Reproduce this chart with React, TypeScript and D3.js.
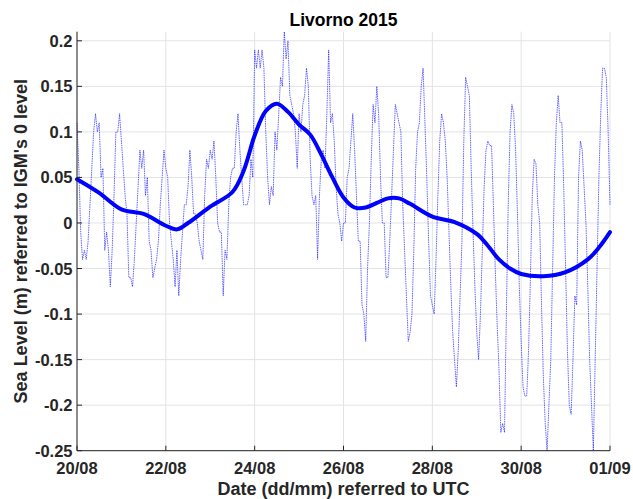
import React from "react";
import * as d3 from "d3";

// Hourly sea level at Livorno, 20/08/2015 00:00 UTC to 01/09/2015 00:00 UTC (m, IGM datum)
const hourlyLevel: number[] = [
  0.11, 0.06, -0.01, -0.04, -0.03, -0.04, -0.02, 0.02, 0.06, 0.1, 0.12, 0.1,
  0.11, 0.05, 0.06, -0.03, -0.01, -0.03, -0.07, -0.03, 0.03, 0.1, 0.1, 0.12,
  0.09, 0.06, 0.03, 0.01, -0.06, -0.06, -0.07, -0.04, 0.0, 0.04, 0.08, 0.06,
  0.08, 0.03, 0.05, -0.02, -0.03, -0.06, -0.05, -0.04, -0.02, 0.02, 0.05, 0.08,
  0.06, 0.05, 0.0, -0.02, -0.04, -0.07, -0.03, -0.08, -0.04, -0.01, 0.02, 0.02,
  0.04, 0.08, 0.05, 0.01, 0.01, 0.0, -0.02, -0.03, -0.04, 0.03, 0.07, 0.06,
  0.08, 0.07, 0.09, 0.05, 0.0, -0.01, -0.01, -0.08, -0.03, -0.04, 0.02, 0.05,
  0.06, 0.06, 0.1, 0.12, 0.08, 0.05, 0.02, 0.02, 0.02, 0.03, 0.07, 0.05,
  0.19, 0.17, 0.19, 0.17, 0.19, 0.17, 0.1, 0.05, 0.02, 0.04, 0.03, 0.1,
  0.08, 0.12, 0.16, 0.15, 0.21, 0.18, 0.2, 0.14, 0.13, 0.12, 0.1, 0.06,
  0.12, 0.1, 0.13, 0.14, 0.17, 0.15, 0.07, 0.03, 0.02, 0.03, -0.04, 0.03,
  0.07, 0.08, 0.06, 0.12, 0.19, 0.11, 0.12, 0.09, 0.04, 0.01, 0.0, -0.02,
  0.0, 0.0, 0.05, 0.06, 0.09, 0.12, 0.08, 0.03, -0.02, -0.02, -0.09, -0.1,
  -0.13, -0.05, 0.0, 0.07, 0.13, 0.11, 0.15, 0.12, 0.05, 0.0, 0.0, -0.06,
  -0.06, -0.02, 0.03, 0.08, 0.13, 0.12, 0.11, 0.1, 0.02, -0.03, -0.08, -0.13,
  -0.12, -0.1, -0.03, 0.06, 0.1, 0.11, 0.15, 0.17, 0.11, 0.05, -0.02, -0.08,
  -0.09, -0.1, -0.04, 0.03, 0.09, 0.12, 0.11, 0.09, 0.05, -0.01, -0.07, -0.12,
  -0.15, -0.18, -0.14, -0.08, -0.02, 0.09, 0.16, 0.15, 0.14, 0.06, -0.01, -0.07,
  -0.12, -0.15, -0.1, -0.03, 0.04, 0.08, 0.09, 0.085, 0.085, 0.02, -0.05, -0.11,
  -0.16, -0.23, -0.22, -0.23, -0.1, 0.02, 0.1, 0.13, 0.12, 0.08, 0.01, -0.07,
  -0.13, -0.18, -0.19, -0.19, -0.14, -0.06, 0.03, 0.07, 0.065, 0.02, 0.0, -0.09,
  -0.17, -0.22, -0.25, -0.2, -0.15, -0.05, 0.05, 0.11, 0.14, 0.11, 0.11, 0.04,
  -0.05, -0.14, -0.2, -0.21, -0.15, -0.08, -0.09, 0.05, 0.09, 0.08, 0.04, 0.0,
  -0.07, -0.15, -0.2, -0.25, -0.15, -0.05, 0.05, 0.12, 0.17, 0.17, 0.16, 0.1,
  0.02,
];

// Low-pass filtered level (hours since start, metres)
const trendHours: number[] = [
  0, 12, 24, 36, 48, 54, 60, 72, 84, 90, 96, 102, 108, 114, 120, 126, 132, 138,
  144, 150, 156, 162, 168, 174, 180, 192, 204, 216, 222, 228, 234, 240, 252,
  264, 276, 282, 288,
];
const trendLevel: number[] = [
  0.048, 0.033, 0.015, 0.01, -0.003, -0.007, 0.0, 0.018, 0.034, 0.057, 0.096,
  0.123, 0.131, 0.122, 0.108, 0.097, 0.075, 0.05, 0.028, 0.017, 0.017, 0.022,
  0.027, 0.027, 0.021, 0.007, 0.001, -0.012, -0.025, -0.04, -0.05, -0.056,
  -0.0585, -0.054, -0.04, -0.027, -0.01,
];

const dateTickLabels: string[] = ["20/08", "22/08", "24/08", "26/08", "28/08", "30/08", "01/09"];
const dateTickHours: number[] = [0, 48, 96, 144, 192, 240, 288];
const levelTicks: number[] = [-0.25, -0.2, -0.15, -0.1, -0.05, 0, 0.05, 0.1, 0.15, 0.2];

const W = 633;
const H = 499;
const margin = { left: 77, right: 23, top: 31.7, bottom: 48.3 };
const AXIS = "#262626";
const GRID = "#e3e3e3";
const FONT = "'Liberation Sans', Arial, Helvetica, sans-serif";

const x = d3
  .scaleLinear()
  .domain([0, 288])
  .range([margin.left, W - margin.right]);
const y = d3
  .scaleLinear()
  .domain([-0.25, 0.21])
  .range([H - margin.bottom, margin.top]);

const fmt = (v: number) => String(+v.toFixed(2));

export default function App() {
  const rawLine = d3
    .line<number>()
    .x((_, i) => x(i))
    .y((d) => y(d))(hourlyLevel) as string;

  const trendLine = d3
    .line<number>()
    .x((_, i) => x(trendHours[i]))
    .y((d) => y(d))
    .curve(d3.curveCatmullRom.alpha(0.5))(trendLevel) as string;

  const x0 = x.range()[0];
  const x1 = x.range()[1];
  const y0 = y.range()[0];
  const y1 = y.range()[1];

  return (
    <div style={{ position: "absolute", left: 0, top: 0 }}>
      <svg width={W} height={H} style={{ display: "block", background: "#fff" }} fontFamily={FONT}>
        {/* grid */}
        {dateTickHours.map((h) => (
          <line key={"gx" + h} x1={x(h)} x2={x(h)} y1={y0} y2={y1} stroke={GRID} strokeWidth={1} />
        ))}
        {levelTicks.map((v) => (
          <line key={"gy" + v} x1={x0} x2={x1} y1={y(v)} y2={y(v)} stroke={GRID} strokeWidth={1} />
        ))}

        {/* data */}
        <path
          d={rawLine}
          fill="none"
          stroke="#0000ff"
          strokeWidth={1}
          strokeDasharray="1.5 0.8"
          strokeOpacity={0.6}
        />
        <path d={trendLine} fill="none" stroke="#0000ff" strokeWidth={4} strokeLinejoin="round" strokeLinecap="round" />

        {/* axes */}
        <line x1={x0} x2={x0} y1={y0} y2={y1} stroke={AXIS} strokeWidth={1} />
        <line x1={x0} x2={x1} y1={y0} y2={y0} stroke={AXIS} strokeWidth={1} />
        {levelTicks.map((v) => (
          <g key={"ty" + v}>
            <line x1={x0} x2={x0 + 5} y1={y(v)} y2={y(v)} stroke={AXIS} strokeWidth={1} />
            <text
              x={x0 - 4.5}
              y={y(v)}
              textAnchor="end"
              dominantBaseline="central"
              fontSize={16.5}
              fontWeight="bold"
              fill={AXIS}
            >
              {fmt(v)}
            </text>
          </g>
        ))}
        {dateTickHours.map((h, i) => (
          <g key={"tx" + h}>
            <line x1={x(h)} x2={x(h)} y1={y0} y2={y0 - 5} stroke={AXIS} strokeWidth={1} />
            <text x={x(h)} y={473.5} textAnchor="middle" fontSize={16.5} fontWeight="bold" fill={AXIS}>
              {dateTickLabels[i]}
            </text>
          </g>
        ))}

        {/* labels */}
        <text x={(x0 + x1) / 2} y={26} textAnchor="middle" fontSize={17.5} fontWeight="bold" fill="#000">
          Livorno 2015
        </text>
        <text x={(x0 + x1) / 2} y={494.5} textAnchor="middle" fontSize={18} fontWeight="bold" fill={AXIS}>
          Date (dd/mm) referred to UTC
        </text>
        <text
          transform={`translate(26.5,${(y0 + y1) / 2}) rotate(-90)`}
          textAnchor="middle"
          fontSize={18}
          fontWeight="bold"
          fill={AXIS}
        >
          Sea Level (m) referred to IGM's 0 level
        </text>
      </svg>
    </div>
  );
}
